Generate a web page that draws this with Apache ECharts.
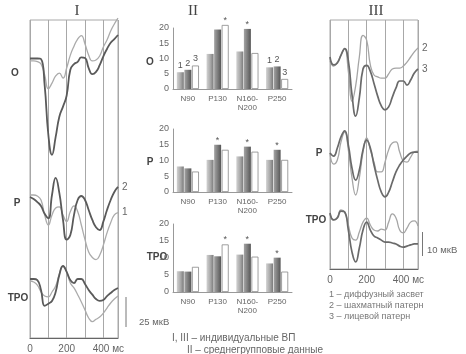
<!DOCTYPE html>
<html>
<head>
<meta charset="utf-8">
<script src="https://cdn.jsdelivr.net/npm/echarts@6/dist/echarts.min.js"></script>
<style>
  html, body { margin: 0; padding: 0; background: #fff; }
  #chart { width: 466px; height: 354px; }
</style>
</head>
<body>
<div id="chart"></div>
<script>
// time points of the evoked potentials, ms
const timesMs = [0, 20, 40, 60, 80, 100, 120, 140, 160, 180, 200, 220, 240,
  260, 280, 300, 320, 340, 360, 380, 400, 420, 440, 460, 480];

// panel I, individual EP (µV, relative to pre-stimulus level)
// 1 = diffuse flash (light line), 2 = checkerboard (dark line)
const iOccChecker = [0, 0, 0, -0.5, -24, -68, -86, -70, -52, -43, -33, -10, -5, -3, 1, 0.5, -8.5, -14, -12, -6, 2, 8.5, 14, 17.4, 21];
const iOccDiffuse = [-2.2, -2.2, -2.7, -4.9, -14.7, -27, -22, -15.6, -13, -17.4, -8.5, 3, 11, 17.4, 20.5, 13, 3, -2.2, -1.3, 2.2, 10.3, 16.5, 24.5, 30.8, 36];
const iParChecker = [0, -1.8, -4.5, -8, -15, -19, 1.8, 17, 3.6, -20.5, -38, -34, -16, -2.7, 0.9, -2.7, -11.6, -20.5, -27, -29.5, -22, -11.6, -2.7, 4.5, 9];
const iParDiffuse = [1.8, 1.8, 0.9, -2.7, -16, -25, -16, -9.8, -8.9, -16, -22, -13, -8, -13, -25, -38, -49, -54, -56, -52, -43, -32, -23, -16, -14];
const iTpoChecker = [0, 0, -0.9, -9.8, -24, -22, -19.6, -11.6, 3.6, 11.6, 6.3, -0.9, -3.6, 0, 0, -4.5, -9.8, -14, -17.9, -19.6, -18.8, -15.2, -12.5, -9.8, -8];
const iTpoDiffuse = [-1.8, -2.7, -5.4, -11.6, -15.2, -16, -11.6, -6.3, 4.5, 11.6, 6.3, -3.6, -8, -14, -20.5, -27.7, -34.8, -38, -36, -33.9, -30.4, -25.9, -21.4, -17.9, -15.2];

// panel III, individual EP (µV)
// 2 = checkerboard (light line), 3 = face pattern (dark line)
const iiiOccFace = [0, -3.3, -2.5, 0.8, 3.5, -1.5, -15.8, -24.6, -17, -5, -3.5, -6, -11, -16.3, -20.4, -22, -20.8, -16.7, -12.9, -10, -10, -11.7, -9.6, -6.7, -5];
const iiiOccChecker = [-1.7, -3.8, -2.1, 0.8, 3.5, -6, -18.5, -12, 0, 9, 7, -3.3, -7.5, -8.3, -8.8, -8.8, -7, -5, -4.6, -4.6, -3.8, -2.1, 0, 2.1, 3.8];
const iiiParFace = [0, -1.3, 2.1, 6.7, 9.2, 3.3, -6.3, -11.3, -7.1, 1.3, 5.4, 2.1, -5, -11.3, -16.3, -18.3, -16.3, -12.1, -7.9, -5, -2.9, -1.3, 0, 0.4, 0.4];
const iiiParChecker = [0, -4.6, -2.9, 4.6, 8.75, 1.3, -10.4, -17.5, -10.4, 0.4, 6.25, 1.3, -3.8, -7.9, -7.9, -3.8, 1.3, 4.2, 4.6, 0.4, -3.3, -3.8, -1.7, 0.4, 0.8];
const iiiTpoFace = [0, -2.9, -2.1, 0.8, 0.4, -7.1, -16.3, -20.4, -14.6, -7.1, -3.8, -7.1, -9.6, -10.4, -11.3, -12.1, -12.1, -12.5, -12.9, -13.8, -14.2, -13.8, -13.3, -12.9, -12.9];
const iiiTpoChecker = [-0.4, -2.9, -1.7, 1.3, 0.4, -5, -10.4, -11.3, -7.9, -3.8, -2.1, -5, -7.1, -7.5, -6.7, -7.1, -3.8, -0.4, -2.1, -7.1, -8.3, -6.3, -3.8, -3.3, -5.4];

// panel II, group mean amplitudes (µV)
const peakNames = ['N90', 'P130', 'N160-\nN200', 'P250'];
const ampTicks = [0, 5, 10, 15, 20];
const occDiffuse = [5.5, 11.5, 12.3, 7.1];
const occChecker = [6.3, 19.5, 19.7, 7.4];
const occFace = [7.7, 21, 11.8, 3.3];
const parDiffuse = [8.1, 10.2, 11.3, 10.2];
const parChecker = [7.5, 15, 14.4, 13.4];
const parFace = [6.5, 13.4, 12.8, 10.2];
const tpoDiffuse = [6.1, 10.9, 11, 8.4];
const tpoChecker = [6, 10.5, 14.2, 10.1];
const tpoFace = [7.4, 14, 10.4, 6];
// significant differences: [peak index, stimulus index]
const occStars = [[1, 2], [2, 1]];
const parStars = [[1, 1], [2, 1], [3, 1]];
const tpoStars = [[1, 2], [2, 1], [3, 1]];
// bars that carry the stimulus number
const occNumbered = [[0, 0], [0, 1], [0, 2], [3, 0], [3, 1], [3, 2]];

const FONT = '"Liberation Sans", Arial, sans-serif';
const chart = echarts.init(document.getElementById('chart'));

const grids = [], xAxes = [], yAxes = [], series = [];

function addFrame(left, top, width, height) {
  const i = grids.length;
  grids.push({ left, top, width, height, show: true, borderColor: '#a8a8a8', borderWidth: 1 });
  xAxes.push({
    gridIndex: i, type: 'value', min: 0, max: 480, interval: 100,
    axisLine: { show: true, onZero: false, lineStyle: { color: '#666', width: 1.2 } },
    axisTick: { show: false },
    splitLine: { show: true, lineStyle: { color: '#a8a8a8', width: 1 } },
    axisLabel: {
      color: '#666', fontSize: 10, fontFamily: FONT, margin: 6, showMaxLabel: false,
      formatter: v => v === 400 ? '{u|400 мс}' : (v % 200 === 0 ? String(v) : ''),
      rich: { u: { color: '#666', fontSize: 10, fontFamily: FONT, padding: [0, 0, 0, 10] } }
    }
  });
  yAxes.push({ gridIndex: i, type: 'value', min: 0, max: 1, show: false });
}

function addRow(left, width, baseline, pxPerUv, lo, hi) {
  const i = grids.length;
  grids.push({ left, width, top: baseline - hi * pxPerUv, height: (hi - lo) * pxPerUv });
  xAxes.push({ gridIndex: i, type: 'value', min: 0, max: 480, show: false });
  yAxes.push({ gridIndex: i, type: 'value', min: lo, max: hi, show: false });
  return i;
}

function addWave(gi, values, color, width, tag) {
  series.push({
    type: 'line', xAxisIndex: gi, yAxisIndex: gi, silent: true,
    data: timesMs.map((t, k) => [t, values[k]]),
    smooth: 0.5, symbol: 'none', clip: false,
    lineStyle: { color, width },
    endLabel: { show: !!tag, formatter: tag || '', color: '#666', fontSize: 10, fontFamily: FONT, distance: 4 }
  });
}

const DARK = '#5a5a5a', LIGHT = '#ababab';

// panel I
addFrame(30, 20, 88, 318);
let g = addRow(30, 88, 58.5, 1.12, -95, 40);
addWave(g, iOccDiffuse, LIGHT, 1.3);
addWave(g, iOccChecker, DARK, 1.8);
g = addRow(30, 88, 197, 1.12, -60, 20);
addWave(g, iParDiffuse, LIGHT, 1.3, '1');
addWave(g, iParChecker, DARK, 1.8, '2');
g = addRow(30, 88, 279, 1.12, -40, 15);
addWave(g, iTpoDiffuse, LIGHT, 1.3);
addWave(g, iTpoChecker, DARK, 1.8);

// panel III
addFrame(330, 20, 88, 249);
g = addRow(330, 88, 57, 2.4, -30, 15);
addWave(g, iiiOccChecker, '#a5a5a5', 1.3, '2');
addWave(g, iiiOccFace, '#6a6a6a', 1.7, '3');
g = addRow(330, 88, 153, 2.4, -20, 12);
addWave(g, iiiParChecker, '#a5a5a5', 1.3);
addWave(g, iiiParFace, '#6a6a6a', 1.7);
g = addRow(330, 88, 213, 2.4, -22, 5);
addWave(g, iiiTpoChecker, '#a5a5a5', 1.3);
addWave(g, iiiTpoFace, '#6a6a6a', 1.7);

// panel II
const barStyles = [
  { color: new echarts.graphic.LinearGradient(0, 0, 1, 0, [
      { offset: 0, color: '#d2d2d2' }, { offset: 0.55, color: '#a8a8a8' }, { offset: 1, color: '#7a7a7a' }]) },
  { color: new echarts.graphic.LinearGradient(0, 0, 1, 0, [
      { offset: 0, color: '#a4a4a4' }, { offset: 0.55, color: '#7a7a7a' }, { offset: 1, color: '#555' }]) },
  { color: '#fff', borderColor: '#888', borderWidth: 0.8 }
];

function addBars(top, height, sets, stars, numbered) {
  const i = grids.length;
  grids.push({ left: 173, width: 119, top, height });
  xAxes.push({
    gridIndex: i, type: 'category', data: peakNames,
    axisLine: { show: true, lineStyle: { color: '#999' } }, axisTick: { show: false },
    axisLabel: { interval: 0, fontSize: 8, lineHeight: 9, color: '#666', fontFamily: FONT, margin: 5 }
  });
  yAxes.push({
    gridIndex: i, type: 'value', min: ampTicks[0], max: ampTicks[ampTicks.length - 1], interval: 5,
    axisLine: { show: true, lineStyle: { color: '#999' } }, axisTick: { show: false },
    splitLine: { show: false },
    axisLabel: { fontSize: 9, color: '#666', fontFamily: FONT, margin: 4 }
  });
  sets.forEach((vals, si) => {
    series.push({
      type: 'bar', xAxisIndex: i, yAxisIndex: i, silent: true, clip: false,
      barWidth: 7, barGap: '8%', itemStyle: barStyles[si],
      data: vals.map((v, ci) => {
        const star = stars.some(s => s[0] === ci && s[1] === si);
        const num = (numbered || []).some(s => s[0] === ci && s[1] === si);
        if (!star && !num) return v;
        return {
          value: v,
          label: {
            show: true, position: 'top', distance: star ? 0 : 2,
            formatter: star ? '*' : String(si + 1),
            fontSize: 9, color: '#555', fontFamily: FONT
          }
        };
      })
    });
  });
}

addBars(28, 61, [occDiffuse, occChecker, occFace], occStars, occNumbered);
addBars(129, 63, [parDiffuse, parChecker, parFace], parStars);
addBars(224, 68, [tpoDiffuse, tpoChecker, tpoFace], tpoStars);

function txt(text, x, y, opt) {
  return {
    type: 'text', silent: true,
    style: Object.assign({
      text, x, y, fill: '#555', font: '10px ' + FONT,
      textAlign: 'center', textVerticalAlign: 'middle'
    }, opt || {})
  };
}
function line(x1, y1, x2, y2) {
  return { type: 'line', silent: true, shape: { x1, y1, x2, y2 }, style: { stroke: '#777', lineWidth: 1 } };
}

const ROMAN = '15px "Liberation Serif", "Times New Roman", serif';
const ROW = 'bold 10px ' + FONT;
const graphic = [
  txt('I', 77, 11, { font: ROMAN, fill: '#444' }),
  txt('II', 193, 11, { font: ROMAN, fill: '#444' }),
  txt('III', 376, 11, { font: ROMAN, fill: '#444' }),
  txt('O', 15, 73, { font: ROW, fill: '#444' }),
  txt('P', 17, 203, { font: ROW, fill: '#444' }),
  txt('TPO', 18, 298, { font: ROW, fill: '#444' }),
  txt('O', 150, 62, { font: ROW, fill: '#444' }),
  txt('P', 150, 162, { font: ROW, fill: '#444' }),
  txt('TPO', 157, 257, { font: ROW, fill: '#444' }),
  txt('P', 319, 153, { font: ROW, fill: '#444' }),
  txt('TPO', 316, 220, { font: ROW, fill: '#444' }),
  line(126, 297, 126, 327),
  txt('25 мкВ', 139, 322, { textAlign: 'left', font: '9.5px ' + FONT, fill: '#666' }),
  line(422.5, 232, 422.5, 256),
  txt('10 мкВ', 427, 250, { textAlign: 'left', font: '9.5px ' + FONT, fill: '#666' }),
  txt('1 – диффузный засвет', 329, 295, { textAlign: 'left', font: '9px ' + FONT, fill: '#777' }),
  txt('2 – шахматный патерн', 329, 306, { textAlign: 'left', font: '9px ' + FONT, fill: '#777' }),
  txt('3 – лицевой патерн', 329, 317, { textAlign: 'left', font: '9px ' + FONT, fill: '#777' }),
  txt('I, III – индивидуальные ВП', 172, 338, { textAlign: 'left', font: '10px ' + FONT, fill: '#666' }),
  txt('II – среднегрупповые данные', 187, 350, { textAlign: 'left', font: '10px ' + FONT, fill: '#666' })
];

chart.setOption({
  animation: false,
  backgroundColor: '#fff',
  grid: grids,
  xAxis: xAxes,
  yAxis: yAxes,
  series,
  graphic
});
</script>
</body>
</html>
